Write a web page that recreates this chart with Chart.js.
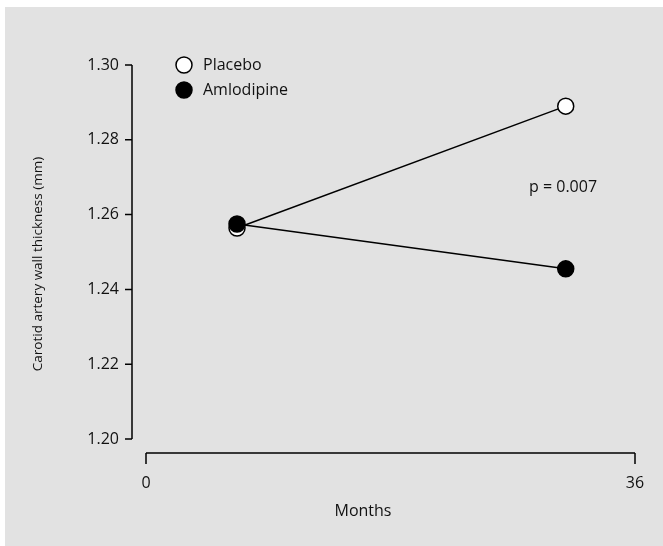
<!DOCTYPE html>
<html>
<head>
<meta charset="utf-8">
<script src="https://cdn.jsdelivr.net/npm/chart.js@4/dist/chart.umd.min.js"></script>
<style>
  html, body { margin: 0; padding: 0; background: #fff; }
  #wrap { width: 663px; height: 546px; }
</style>
</head>
<body>
<div id="wrap"><canvas id="carotidChart" width="663" height="546"></canvas></div>
<script>
// values
var months = [6.7, 30.9];
var placebo = [1.2564, 1.2890];
var amlodipine = [1.2575, 1.2455];
var yTicks = [1.20, 1.22, 1.24, 1.26, 1.28, 1.30];
var xTicks = [0, 36];
var pText = 'p = 0.007';
var yTitle = 'Carotid artery wall thickness (mm)';
var xTitle = 'Months';

var FONT = '"Open Sans", sans-serif';

function toPoints(xs, ys) {
  return xs.map(function (x, i) { return { x: x, y: ys[i] }; });
}

// offset axes, legend, background and annotation
var paperPlugin = {
  id: 'paper',
  beforeDraw: function (chart) {
    var c = chart.ctx;
    c.save();
    c.fillStyle = '#ffffff';
    c.fillRect(0, 0, chart.width, chart.height);
    c.fillStyle = '#e2e2e2';
    c.fillRect(5, 7, chart.width - 5, chart.height - 7);
    c.restore();
  },
  afterDraw: function (chart) {
    var c = chart.ctx;
    var xs = chart.scales.x, ys = chart.scales.y;
    var axX = xs.left - 14, axY = ys.bottom + 14;
    c.save();
    c.strokeStyle = '#000';
    c.lineWidth = 1.5;
    // y axis
    c.beginPath();
    c.moveTo(axX, ys.getPixelForValue(yTicks[yTicks.length - 1]));
    c.lineTo(axX, ys.getPixelForValue(yTicks[0]));
    yTicks.forEach(function (v) {
      var py = ys.getPixelForValue(v);
      c.moveTo(axX - 7, py);
      c.lineTo(axX, py);
    });
    c.stroke();
    // x axis
    c.beginPath();
    c.moveTo(xs.getPixelForValue(xTicks[0]), axY);
    c.lineTo(xs.getPixelForValue(xTicks[xTicks.length - 1]), axY);
    xTicks.forEach(function (v) {
      var px = xs.getPixelForValue(v);
      c.moveTo(px, axY);
      c.lineTo(px, axY + 11);
    });
    c.stroke();

    // legend
    var items = chart.data.datasets;
    c.font = '16px ' + FONT;
    c.textBaseline = 'middle';
    c.textAlign = 'left';
    items.forEach(function (ds, i) {
      var ly = 65 + i * 25;
      c.beginPath();
      c.arc(184, ly, 8, 0, Math.PI * 2);
      c.fillStyle = ds.pointBackgroundColor;
      c.fill();
      c.lineWidth = 1.5;
      c.strokeStyle = '#000';
      c.stroke();
      c.fillStyle = '#111';
      c.fillText(ds.label, 203, ly);
    });

    // p value
    c.fillText(pText, 529, 187);

    // axis titles
    c.textAlign = 'center';
    c.fillText(xTitle, 363, 511);
    c.translate(38, 264);
    c.rotate(-Math.PI / 2);
    c.font = '13.5px ' + FONT;
    c.fillText(yTitle, 0, 0);
    c.restore();
  }
};

var ctx = document.getElementById('carotidChart').getContext('2d');
var chart = new Chart(ctx, {
  type: 'scatter',
  data: {
    datasets: [{
      label: 'Placebo',
      data: toPoints(months, placebo),
      showLine: true,
      borderColor: '#000',
      borderWidth: 1.5,
      pointRadius: 8,
      pointBorderWidth: 1.5,
      pointBorderColor: '#000',
      pointBackgroundColor: '#ffffff',
      order: 2
    }, {
      label: 'Amlodipine',
      data: toPoints(months, amlodipine),
      showLine: true,
      borderColor: '#000',
      borderWidth: 1.5,
      pointRadius: 8,
      pointBorderWidth: 1.5,
      pointBorderColor: '#000',
      pointBackgroundColor: '#000000',
      order: 1
    }]
  },
  options: {
    responsive: false,
    animation: false,
    layout: { padding: { top: 65, right: 28, bottom: 0, left: 0 } },
    plugins: {
      legend: { display: false },
      tooltip: { enabled: false }
    },
    scales: {
      x: {
        type: 'linear',
        min: 0,
        max: 36,
        afterFit: function (s) {
          s.height = 107;
          s.paddingLeft = 0;
          s.paddingRight = 0;
        },
        afterBuildTicks: function (s) { s.ticks = xTicks.map(function (v) { return { value: v }; }); },
        grid: { display: false, drawTicks: false },
        border: { display: false },
        ticks: {
          padding: 35,
          color: '#111',
          font: { family: FONT, size: 16 },
          maxRotation: 0
        }
      },
      y: {
        min: 1.20,
        max: 1.30,
        afterFit: function (s) {
          s.width = 146;
          s.paddingTop = 0;
          s.paddingBottom = 0;
        },
        afterBuildTicks: function (s) { s.ticks = yTicks.map(function (v) { return { value: v }; }); },
        grid: { display: false, drawTicks: false },
        border: { display: false },
        ticks: {
          padding: 27,
          color: '#111',
          font: { family: FONT, size: 16 },
          callback: function (v) { return Number(v).toFixed(2); }
        }
      }
    }
  },
  plugins: [paperPlugin]
});
</script>
</body>
</html>
